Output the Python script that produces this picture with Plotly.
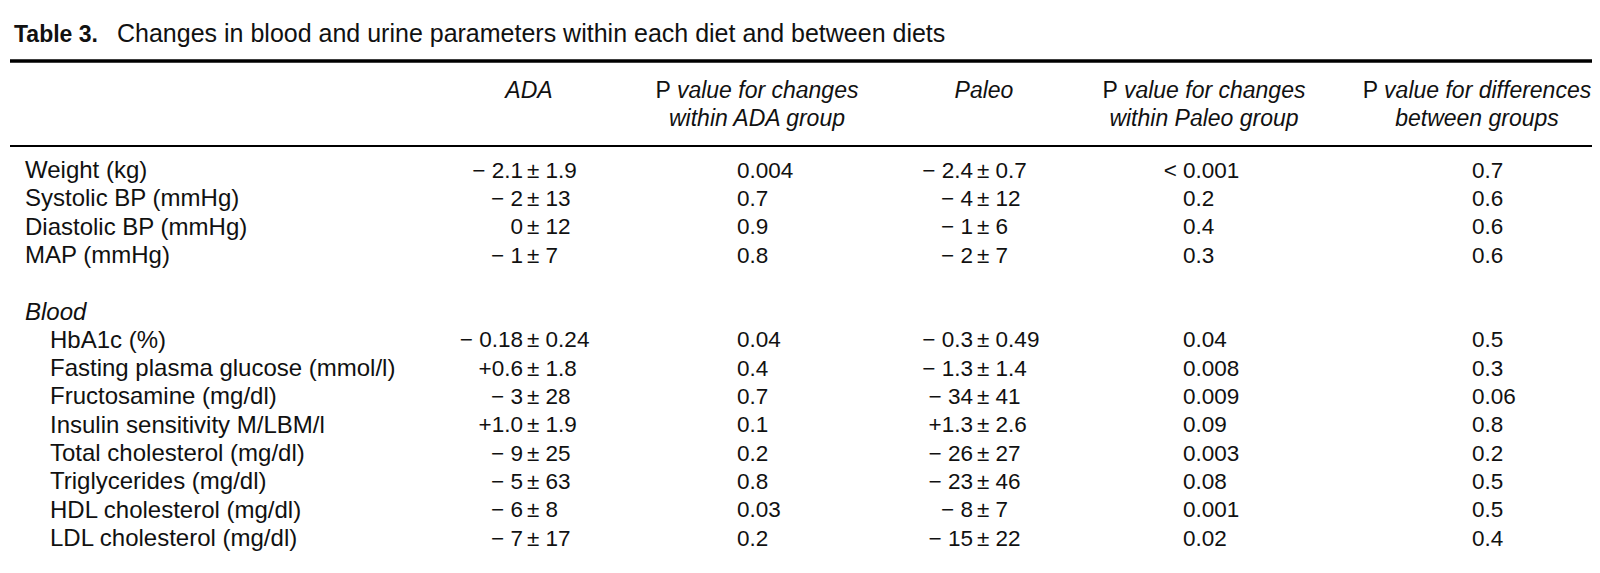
import plotly.graph_objects as go

# table content
title_label = "Table 3."
title_text = "Changes in blood and urine parameters within each diet and between diets"

header_top = ["<i>ADA</i>", "P <i>value for changes</i>", "<i>Paleo</i>",
              "P <i>value for changes</i>", "P <i>value for differences</i>"]
header_bottom = ["", "<i>within ADA group</i>", "", "<i>within Paleo group</i>",
                 "<i>between groups</i>"]

section_label = "Blood"
measures = [
    "Weight (kg)", "Systolic BP (mmHg)", "Diastolic BP (mmHg)", "MAP (mmHg)",
    "HbA1c (%)", "Fasting plasma glucose (mmol/l)", "Fructosamine (mg/dl)",
    "Insulin sensitivity M/LBM/l", "Total cholesterol (mg/dl)",
    "Triglycerides (mg/dl)", "HDL cholesterol (mg/dl)", "LDL cholesterol (mg/dl)",
]
ada_mean = ["− 2.1", "− 2", "0", "− 1", "− 0.18", "+0.6", "− 3", "+1.0",
            "− 9", "− 5", "− 6", "− 7"]
ada_sd = ["1.9", "13", "12", "7", "0.24", "1.8", "28", "1.9", "25", "63", "8", "17"]
p_ada = ["0.004", "0.7", "0.9", "0.8", "0.04", "0.4", "0.7", "0.1", "0.2",
         "0.8", "0.03", "0.2"]
paleo_mean = ["− 2.4", "− 4", "− 1", "− 2", "− 0.3", "− 1.3", "− 34", "+1.3",
              "− 26", "− 23", "− 8", "− 15"]
paleo_sd = ["0.7", "12", "6", "7", "0.49", "1.4", "41", "2.6", "27", "46", "7", "22"]
p_paleo = ["< 0.001", "0.2", "0.4", "0.3", "0.04", "0.008", "0.009", "0.09",
           "0.003", "0.08", "0.001", "0.02"]
p_between = ["0.7", "0.6", "0.6", "0.6", "0.5", "0.3", "0.06", "0.8", "0.2",
             "0.5", "0.5", "0.4"]

# 4 body rows, a blank row, the "Blood" row, then the blood rows
n_first = 4
row_idx = list(range(n_first)) + [i + 2 for i in range(n_first, len(measures))]
section_idx = n_first + 1

# the page body has an 8px margin, so the figure is a bit smaller than the
# window and its axes start at 8 -> axis units equal screen pixels
PAGE_W, PAGE_H, BODY = 1600, 573, 8
W, H = PAGE_W - 2 * BODY, PAGE_H - 2 * BODY

FONT = "Liberation Sans, Arial, sans-serif"
FS_TITLE, FS_TAG, FS_HEAD, FS_LABEL, FS_NUM = 25, 23, 23, 24, 22.5
INK = "#111111"

ROW0, ROWH = 172, 28.3
ys = [ROW0 + ROWH * r for r in row_idx]

X_LABEL, X_INDENT, X_SECTION = 25, 50, 25
X_ADA_PM, X_PALEO_PM = 527, 977       # left edge of the ± sign
X_P_ADA, X_P_PALEO, X_P_BETWEEN = 737, 1183, 1472
HEADER_X = [529, 757, 984, 1204, 1477]
HEADER_Y = [92, 120]

fig = go.Figure()


def add_text(x, y, text, align, size, italic=False):
    # align: "left" -> text starts at x, "right" -> text ends at x, "center"
    pos = {"left": "middle right", "right": "middle left",
           "center": "middle center"}[align]
    fig.add_trace(go.Scatter(
        x=x, y=y, text=text, mode="text", textposition=pos,
        textfont=dict(family=FONT, size=size, color=INK,
                      style="italic" if italic else "normal"),
        cliponaxis=False, hoverinfo="skip", showlegend=False,
    ))


n = len(ys)

# title
add_text([14], [36], [f"<b>{title_label}</b>"], "left", FS_TAG)
add_text([117], [36], [title_text], "left", FS_TITLE)

# headers
add_text(HEADER_X, [HEADER_Y[0]] * 5, header_top, "center", FS_HEAD)
add_text(HEADER_X, [HEADER_Y[1]] * 5, header_bottom, "center", FS_HEAD)

# row labels
lab_x = [X_LABEL if r < n_first else X_INDENT for r in row_idx]
add_text(lab_x, ys, measures, "left", FS_LABEL)
add_text([X_SECTION], [ROW0 + ROWH * section_idx], [section_label], "left",
         FS_LABEL, italic=True)

# mean ± sd, lined up on the ± sign
add_text([X_ADA_PM - 4] * n, ys, ada_mean, "right", FS_NUM)
add_text([X_ADA_PM] * n, ys, ["± " + s for s in ada_sd], "left", FS_NUM)
add_text([X_PALEO_PM - 4] * n, ys, paleo_mean, "right", FS_NUM)
add_text([X_PALEO_PM] * n, ys, ["± " + s for s in paleo_sd], "left", FS_NUM)

# p values
add_text([X_P_ADA] * n, ys, p_ada, "left", FS_NUM)
pal_pre = [s.split(" ")[0] if " " in s else "" for s in p_paleo]
pal_num = [s.split(" ")[-1] for s in p_paleo]
add_text([X_P_PALEO - 6] * n, ys, pal_pre, "right", FS_NUM)
add_text([X_P_PALEO] * n, ys, pal_num, "left", FS_NUM)
add_text([X_P_BETWEEN] * n, ys, p_between, "left", FS_NUM)

# rules
x_end = BODY + W
fig.add_shape(type="line", x0=10, x1=x_end, y0=61, y1=61,
              line=dict(color="black", width=3.5), xref="x", yref="y")
fig.add_shape(type="line", x0=10, x1=x_end, y0=146, y1=146,
              line=dict(color="black", width=2), xref="x", yref="y")

fig.update_xaxes(range=[BODY, BODY + W], visible=False, fixedrange=True)
fig.update_yaxes(range=[BODY + H, BODY], visible=False, fixedrange=True)
fig.update_layout(
    width=W, height=H,
    margin=dict(l=0, r=0, t=0, b=0),
    paper_bgcolor="white", plot_bgcolor="white",
)

fig.write_html("out.html")
